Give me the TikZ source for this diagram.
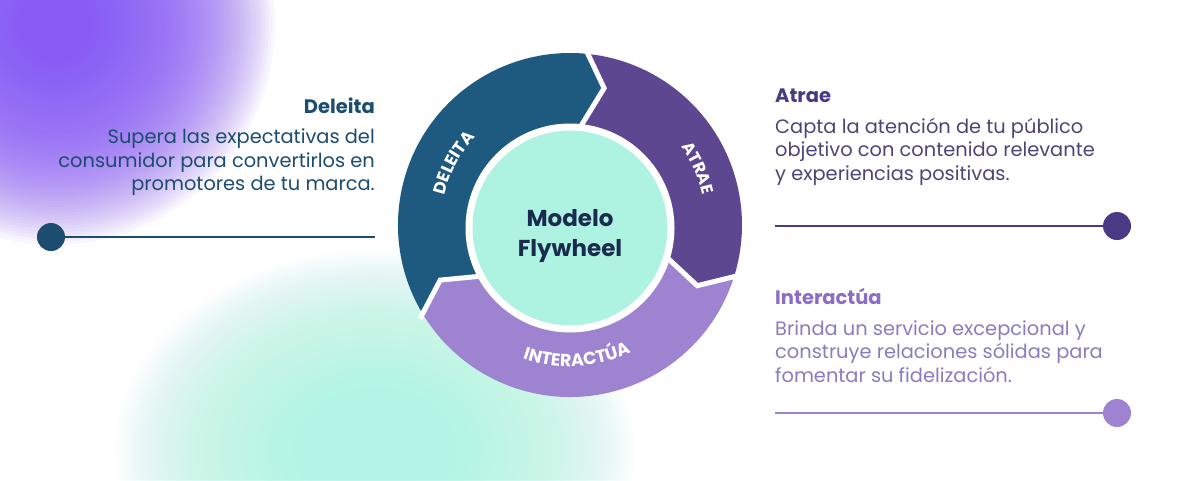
\documentclass[tikz,border=0pt]{standalone}
\usepackage{fontspec}
\setmainfont{Poppins}
\usetikzlibrary{decorations.text,calc}
\definecolor{blueD}{HTML}{1E5A80}
\definecolor{purpD}{HTML}{5E4791}
\definecolor{purpL}{HTML}{9E83D0}
\definecolor{mint}{HTML}{AEF2E2}
\definecolor{navy}{HTML}{1B2B4D}
\definecolor{tDel}{HTML}{1C4C70}
\definecolor{tAtrH}{HTML}{4A3A86}
\definecolor{tAtrB}{HTML}{4E4478}
\definecolor{tIntH}{HTML}{8B6DC7}
\definecolor{tIntB}{HTML}{8B7BBF}
\definecolor{glowP}{HTML}{8A5CF5}
\definecolor{glowM}{HTML}{B2F5E6}
\tikzset{
  bodytxt/.style={font=\fontsize{19.4}{24}\selectfont},
  headtxt/.style={font=\bfseries\fontsize{19.5}{24}\selectfont},
  dot/.style={circle, inner sep=0pt, minimum size=28pt},
  sepline/.style={white, line width=5pt, line join=miter},
  ringlabel/.style={decorate, decoration={text along path, text align=center, text color=white, text={#1}}}
}
\begin{document}
\begin{tikzpicture}[x=1pt,y=1pt]
\useasboundingbox (0,0) rectangle (1200,-480);
\fill[white] (0,0) rectangle (1200,-480);
% background glows
\foreach \k in {1,...,70}{
  \fill[glowM, opacity=0.035] (375,-450) ellipse [x radius={3.714*\k}, y radius={2.857*\k}];
}
\foreach \k in {1,...,70}{
  \fill[glowP, opacity=0.042] (55,-25) circle ({3.143*\k});
}
% wheel
\begin{scope}[shift={(570,-225)}]
\coordinate (C) at (0,0);
\fill[blueD] (212:172) arc[start angle=212,end angle=85,radius=172] -- (76:141) -- (85:100)
   arc[start angle=85,end angle=212,radius=100] -- (203:141) -- cycle;
\fill[purpD] (85:172) arc[start angle=85,end angle=-16.5,radius=172] -- (-25.5:141) -- (-16.5:100)
   arc[start angle=-16.5,end angle=85,radius=100] -- (76:141) -- cycle;
\fill[purpL] (-16.5:172) arc[start angle=-16.5,end angle=-148,radius=172] -- (-157:141) -- (-148:100)
   arc[start angle=-148,end angle=-16.5,radius=100] -- (-25.5:141) -- cycle;
\draw[sepline] (85:177) -- (76:141) -- (85:95);
\draw[sepline] (-16.5:177) -- (-25.5:141) -- (-16.5:95);
\draw[sepline] (-148:177) -- (-157:141) -- (-148:95);
\path[ringlabel={|\bfseries\fontsize{17}{17}\selectfont|DELEITA}] (202:129) arc[start angle=202,end angle=102,radius=129];
\path[ringlabel={|\bfseries\fontsize{16.5}{16.5}\selectfont|ATRAE}] (74:136) arc[start angle=74,end angle=-26,radius=136];
\path[ringlabel={|\bfseries\fontsize{17.5}{17.5}\selectfont|INTERACTÚA}] (-137:141.5) arc[start angle=-137,end angle=-37,radius=141.5];
\node[circle, fill=mint, draw=white, line width=7pt, minimum size=202pt, inner sep=0pt] (hub) at (0,-3) {};
\end{scope}
\node[anchor=base, text=navy, font=\bfseries\fontsize{23}{23}\selectfont] (m1) at (570,-226) {Modelo};
\node[anchor=base, text=navy, font=\bfseries\fontsize{23}{23}\selectfont] (m2) at (570,-256) {Flywheel};
% Deleita block
\node[headtxt, text=tDel, anchor=base east, inner sep=0pt] (dh) at (375,-113) {Deleita};
\node[bodytxt, text=tDel, anchor=base east, inner sep=0pt] (d1) at (375,-143) {Supera las expectativas del};
\node[bodytxt, text=tDel, anchor=base east, inner sep=0pt] (d2) at (375,-167) {consumidor para convertirlos en};
\node[bodytxt, text=tDel, anchor=base east, inner sep=0pt] (d3) at (375,-190) {promotores de tu marca.};
\node[dot, fill=tDel] (ddot) at (51,-237) {};
\coordinate (dend) at (375,-237);
\draw[tDel, line width=2pt] (ddot) -- (dend);
% Atrae block
\node[headtxt, text=tAtrH, anchor=base west, inner sep=0pt] (ah) at (775,-102) {Atrae};
\node[bodytxt, text=tAtrB, anchor=base west, inner sep=0pt] (a1) at (775,-133) {Capta la atención de tu público};
\node[bodytxt, text=tAtrB, anchor=base west, inner sep=0pt] (a2) at (775,-156) {objetivo con contenido relevante};
\node[bodytxt, text=tAtrB, anchor=base west, inner sep=0pt] (a3) at (775,-180) {y experiencias positivas.};
\coordinate (astart) at (775,-226);
\node[dot, fill=tAtrH] (adot) at (1117,-226) {};
\draw[tAtrH, line width=2pt] (astart) -- (adot);
% Interactua block
\node[headtxt, text=tIntH, anchor=base west, inner sep=0pt] (ih) at (775,-304) {Interactúa};
\node[bodytxt, text=tIntB, anchor=base west, inner sep=0pt] (i1) at (775,-335) {Brinda un servicio excepcional y};
\node[bodytxt, text=tIntB, anchor=base west, inner sep=0pt] (i2) at (775,-358) {construye relaciones sólidas para};
\node[bodytxt, text=tIntB, anchor=base west, inner sep=0pt] (i3) at (775,-382) {fomentar su fidelización.};
\coordinate (istart) at (775,-413);
\node[dot, fill=purpL] (idot) at (1117,-413) {};
\draw[purpL, line width=2pt] (istart) -- (idot);
\end{tikzpicture}
\end{document}
